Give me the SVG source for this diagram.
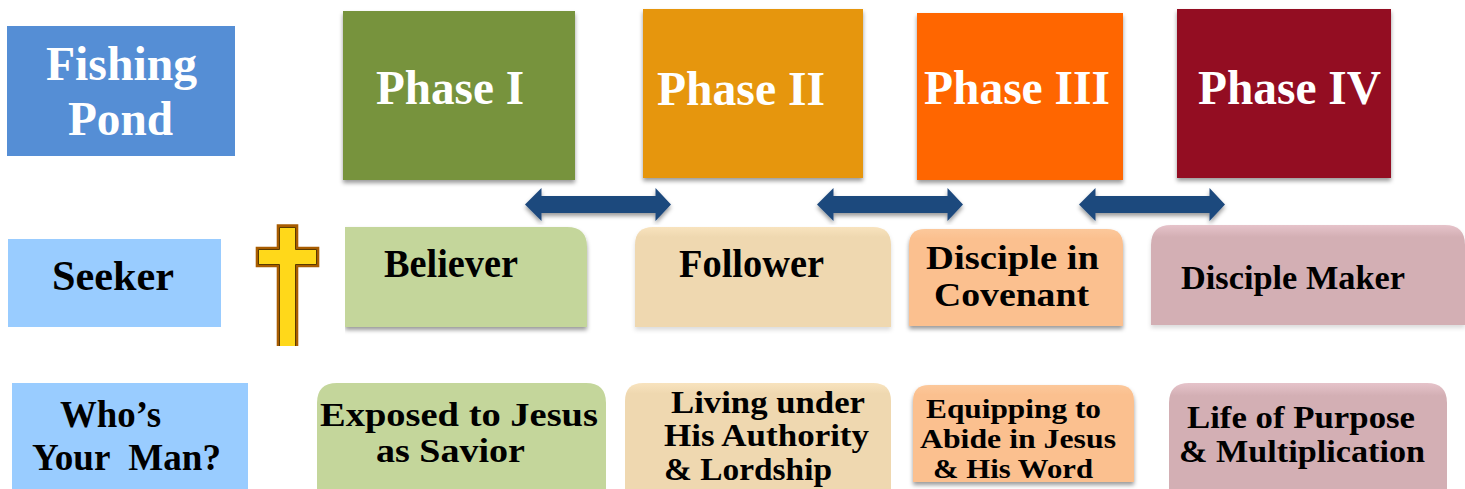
<svg xmlns="http://www.w3.org/2000/svg" width="1465" height="489" viewBox="0 0 1465 489">
<defs>
<filter id="sh" x="-5%" y="-5%" width="110%" height="115%"><feDropShadow dx="0" dy="3" stdDeviation="2" flood-color="#000" flood-opacity="0.4"/></filter>
<filter id="shl" x="0%" y="-5%" width="105%" height="115%"><feDropShadow dx="0" dy="3" stdDeviation="2" flood-color="#000" flood-opacity="0.4"/></filter>
<filter id="shw" x="-5%" y="-5%" width="110%" height="115%"><feDropShadow dx="0" dy="3" stdDeviation="2" flood-color="#000" flood-opacity="0.14"/></filter>
<linearGradient id="tan" x1="0" y1="0" x2="0" y2="1"><stop offset="0" stop-color="#F8E3BE"/><stop offset="0.1" stop-color="#EFD8B0"/></linearGradient>
<linearGradient id="rose" x1="0" y1="0" x2="0" y2="1"><stop offset="0" stop-color="#E6C3CA"/><stop offset="0.12" stop-color="#D3AFB4"/></linearGradient>
<linearGradient id="peach" x1="0" y1="0" x2="0" y2="1"><stop offset="0" stop-color="#FCC89B"/><stop offset="0.1" stop-color="#FBC08F"/></linearGradient>
</defs>
<style>
text{font-family:"Liberation Serif","Times New Roman",serif;font-weight:bold;fill:#000;text-anchor:start}
.w{fill:#fff}
.xl{font-size:48px}
.xxl{font-size:43px}
.l{font-size:40px}
.k{font-size:38px}
.m{font-size:33px}
.n{font-size:31px}
.s{font-size:28px}
.green{fill:#C4D69B}
.tan{fill:url(#tan)}
.peach{fill:url(#peach)}
.rose{fill:url(#rose)}
.blue{fill:#99CCFF}
.arrow{fill:#1F497D;filter:url(#sh)}
</style>
<g id="fishing-pond"><rect x="7" y="26" width="228" height="130" fill="#558ED5"/>
<text class="xl w" x="46" y="80" textLength="151" lengthAdjust="spacingAndGlyphs">Fishing</text>
<text class="xl w" x="68" y="135" textLength="105" lengthAdjust="spacingAndGlyphs">Pond</text></g>
<g id="phase-1"><rect x="343" y="11" width="232" height="169" fill="#77933C" filter="url(#sh)"/>
<text class="xl w" x="376" y="104" textLength="148" lengthAdjust="spacingAndGlyphs">Phase I</text></g>
<g id="phase-2"><rect x="643" y="9" width="220" height="169" fill="#E6960C" filter="url(#sh)"/>
<text class="xl w" x="657" y="105" textLength="168" lengthAdjust="spacingAndGlyphs">Phase II</text></g>
<g id="phase-3"><rect x="917" y="13" width="206" height="167" fill="#FF6600" filter="url(#sh)"/>
<text class="xl w" x="924" y="104" textLength="186" lengthAdjust="spacingAndGlyphs">Phase III</text></g>
<g id="phase-4"><rect x="1177" y="9" width="214" height="169" fill="#930A22" filter="url(#sh)"/>
<text class="xl w" x="1198" y="104" textLength="183" lengthAdjust="spacingAndGlyphs">Phase IV</text></g>
<g id="seeker"><rect class="blue" x="8" y="239" width="213" height="88"/>
<text class="xxl" x="52" y="290" textLength="122" lengthAdjust="spacingAndGlyphs">Seeker</text></g>
<g id="cross"><path d="M276.700 224.300H298.300V246.700H319.300V267.300H298.300V346H276.700V267.300H255.700V246.700H276.700Z" fill="#A85C00"/>
<path d="M279.500 346V264.500H258.500V249.500H279.500V227.500H295.500V249.500H316.500V264.500H295.500V346" fill="#FFD81A" stroke="#5A3A00" stroke-width="1"/></g>
<g id="believer"><path class="green" d="M345 227H567Q587 227 587 247V327H345Z" filter="url(#shl)"/>
<text class="l" x="384" y="277" textLength="134" lengthAdjust="spacingAndGlyphs">Believer</text></g>
<g id="follower"><path class="tan" d="M635 245Q635 227 653 227H873Q891 227 891 245V327H635Z" filter="url(#shw)"/>
<text class="l" x="679" y="277" textLength="145" lengthAdjust="spacingAndGlyphs">Follower</text></g>
<g id="disciple-covenant"><path class="peach" d="M909 245Q909 229 925 229H1107Q1123 229 1123 245V326H909Z" filter="url(#sh)"/>
<text class="m" x="926" y="269" textLength="173" lengthAdjust="spacingAndGlyphs">Disciple in</text>
<text class="m" x="934" y="306" textLength="155" lengthAdjust="spacingAndGlyphs">Covenant</text></g>
<g id="disciple-maker"><path class="rose" d="M1151 245Q1151 225 1171 225H1445Q1465 225 1465 245V325H1151Z" filter="url(#shw)"/>
<text class="m" x="1181" y="289" textLength="224" lengthAdjust="spacingAndGlyphs">Disciple Maker</text></g>
<g id="whos-your-man"><rect class="blue" x="12" y="383" width="236" height="106"/>
<text class="k" x="60" y="427" textLength="101" lengthAdjust="spacingAndGlyphs">Who’s</text>
<text class="k" x="32" y="470" textLength="189" lengthAdjust="spacingAndGlyphs" xml:space="preserve">Your  Man?</text></g>
<g id="exposed"><path class="green" d="M317 403Q317 383 337 383H586Q606 383 606 403V489H317Z"/>
<text class="m" x="320" y="426" textLength="278" lengthAdjust="spacingAndGlyphs">Exposed to Jesus</text>
<text class="m" x="376" y="462" textLength="149" lengthAdjust="spacingAndGlyphs">as Savior</text></g>
<g id="living"><path class="tan" d="M625 401Q625 383 643 383H873Q891 383 891 401V489H625Z"/>
<text class="n" x="671" y="413" textLength="194" lengthAdjust="spacingAndGlyphs">Living under</text>
<text class="n" x="664" y="446" textLength="205" lengthAdjust="spacingAndGlyphs">His Authority</text>
<text class="n" x="664" y="480" textLength="168" lengthAdjust="spacingAndGlyphs">&amp; Lordship</text></g>
<g id="equipping"><path class="peach" d="M913 401Q913 385 929 385H1118Q1134 385 1134 401V482H913Z" filter="url(#sh)"/>
<text class="s" x="926" y="418" textLength="175" lengthAdjust="spacingAndGlyphs">Equipping to</text>
<text class="s" x="920" y="448" textLength="196" lengthAdjust="spacingAndGlyphs">Abide in Jesus</text>
<text class="s" x="933" y="478" textLength="160" lengthAdjust="spacingAndGlyphs">&amp; His Word</text></g>
<g id="life"><path class="rose" d="M1169 403Q1169 383 1189 383H1427Q1447 383 1447 403V489H1169Z"/>
<text class="n" x="1187" y="428" textLength="228" lengthAdjust="spacingAndGlyphs">Life of Purpose</text>
<text class="n" x="1179" y="462" textLength="246" lengthAdjust="spacingAndGlyphs">&amp; Multiplication</text></g>
<g id="connectors">
<path class="arrow" d="M525 204.500L541.500 188V196H655.500V188L671 204.500L655.500 221V213H541.500V221Z"/>
<path class="arrow" d="M817 204.500L833.500 188V196H947.500V188L963 204.500L947.500 221V213H833.500V221Z"/>
<path class="arrow" d="M1079 204.500L1095.500 188V196H1209.500V188L1225 204.500L1209.500 221V213H1095.500V221Z"/>
</g>
</svg>
